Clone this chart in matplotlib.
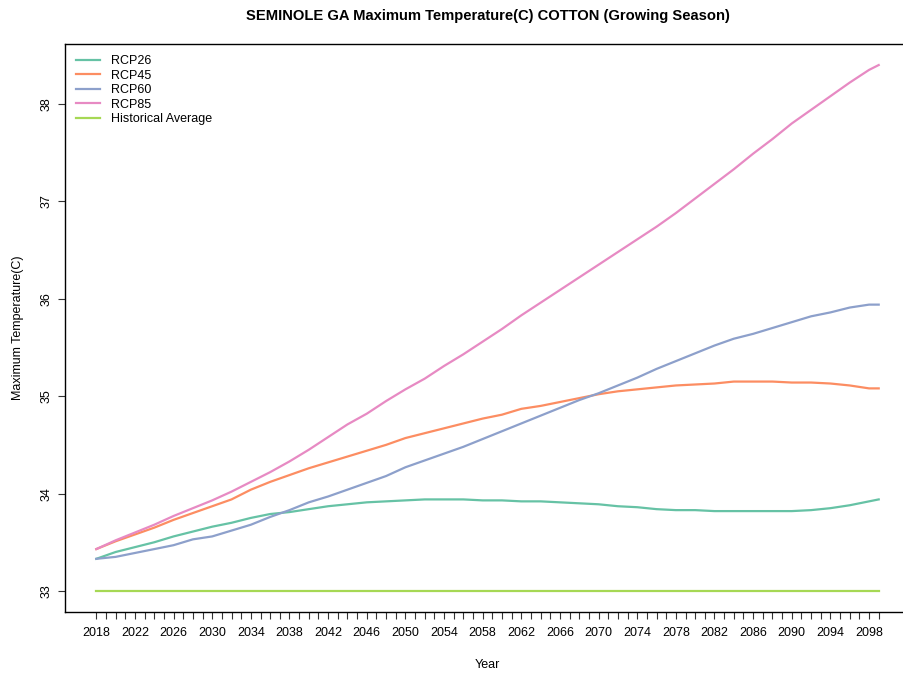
import matplotlib
matplotlib.use("Agg")
import matplotlib.pyplot as plt

plt.rcParams['font.family'] = ['Liberation Sans', 'DejaVu Sans']

years = list(range(2018, 2099, 2)) + [2099]

rcp26 = [33.33, 33.40, 33.45, 33.50, 33.56, 33.61, 33.66, 33.70, 33.75, 33.79,
         33.81, 33.84, 33.87, 33.89, 33.91, 33.92, 33.93, 33.94, 33.94, 33.94,
         33.93, 33.93, 33.92, 33.92, 33.91, 33.90, 33.89, 33.87, 33.86, 33.84,
         33.83, 33.83, 33.82, 33.82, 33.82, 33.82, 33.82, 33.83, 33.85, 33.88,
         33.92, 33.94]
rcp45 = [33.43, 33.51, 33.58, 33.65, 33.73, 33.80, 33.87, 33.94, 34.04, 34.12,
         34.19, 34.26, 34.32, 34.38, 34.44, 34.50, 34.57, 34.62, 34.67, 34.72,
         34.77, 34.81, 34.87, 34.90, 34.94, 34.98, 35.02, 35.05, 35.07, 35.09,
         35.11, 35.12, 35.13, 35.15, 35.15, 35.15, 35.14, 35.14, 35.13, 35.11,
         35.08, 35.08]
rcp60 = [33.33, 33.35, 33.39, 33.43, 33.47, 33.53, 33.56, 33.62, 33.68, 33.76,
         33.83, 33.91, 33.97, 34.04, 34.11, 34.18, 34.27, 34.34, 34.41, 34.48,
         34.56, 34.64, 34.72, 34.80, 34.88, 34.96, 35.03, 35.11, 35.19, 35.28,
         35.36, 35.44, 35.52, 35.59, 35.64, 35.70, 35.76, 35.82, 35.86, 35.91,
         35.94, 35.94]
rcp85 = [33.43, 33.52, 33.60, 33.68, 33.77, 33.85, 33.93, 34.02, 34.12, 34.22,
         34.33, 34.45, 34.58, 34.71, 34.82, 34.95, 35.07, 35.18, 35.31, 35.43,
         35.56, 35.69, 35.83, 35.96, 36.09, 36.22, 36.35, 36.48, 36.61, 36.74,
         36.88, 37.03, 37.18, 37.33, 37.49, 37.64, 37.80, 37.94, 38.08, 38.22,
         38.35, 38.40]
hist_avg = 33.0

labels = ['RCP26', 'RCP45', 'RCP60', 'RCP85', 'Historical Average']
colors = ['#66C2A5', '#FC8D62', '#8DA0CB', '#E78AC3', '#A6D854']

fig = plt.figure(figsize=(9.04, 6.74), dpi=100)
ax = fig.add_axes([65 / 904, 62 / 674, 845 / 904, 568 / 674])

for series, lab, col in zip([rcp26, rcp45, rcp60, rcp85], labels[:4], colors[:4]):
    ax.plot(years, series, color=col, lw=1.6, label=lab)
ax.plot([years[0], years[-1]], [hist_avg, hist_avg], color=colors[4], lw=1.6, label=labels[4])

ax.set_xlim(2014.76, 2102.24)
ax.set_ylim(32.784, 38.616)

tick_years = list(range(2018, 2100))
ax.set_xticks(tick_years)
ax.set_xticklabels([str(y) if (y - 2018) % 4 == 0 else '' for y in tick_years], fontsize=9)
ax.set_yticks([33, 34, 35, 36, 37, 38])
ax.set_yticklabels(['33', '34', '35', '36', '37', '38'], fontsize=9, rotation=90, va='center')
ax.tick_params(axis='x', length=5, width=0.8, pad=6, color='#333333')
ax.tick_params(axis='y', length=5, width=0.8, pad=4, color='#333333')

for s in ax.spines.values():
    s.set_linewidth(1.0)
ax.spines['right'].set_visible(False)

ax.set_xlabel('Year', fontsize=9, labelpad=14)
ax.set_ylabel('Maximum Temperature(C)', fontsize=9, labelpad=12)
fig.text(488 / 904, 1 - 16 / 674, 'SEMINOLE GA Maximum Temperature(C) COTTON (Growing Season)',
         ha='center', va='center', fontsize=10.6, fontweight='bold')

ax.legend(loc='upper left', frameon=False, fontsize=9, handlelength=1.9,
          labelspacing=0.2, borderaxespad=0.5, handletextpad=0.9,
          bbox_to_anchor=(0.0, 1.0))

fig.savefig('out.png', dpi=100)
